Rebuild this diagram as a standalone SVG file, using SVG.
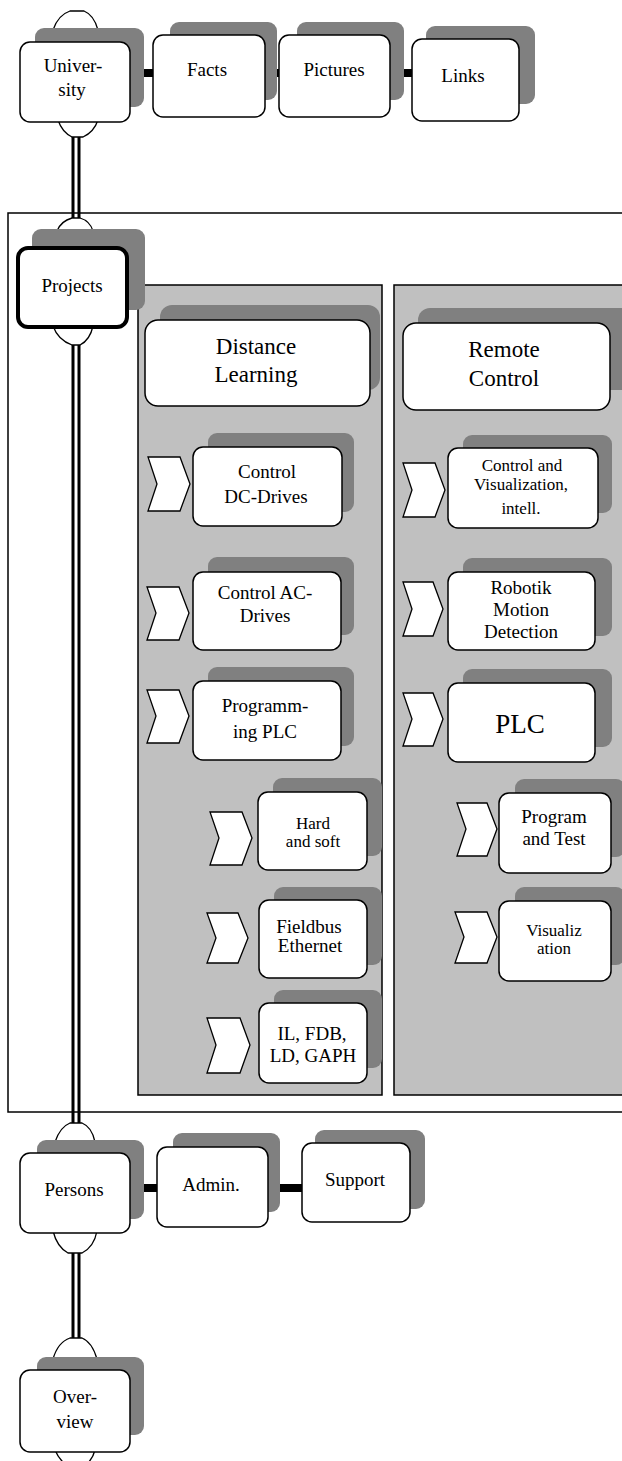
<svg xmlns="http://www.w3.org/2000/svg" width="622" height="1461" viewBox="0 0 622 1461" font-family="Liberation Serif, DejaVu Serif, Times New Roman, serif">
<style>
.bx{fill:#fff;stroke:#000;stroke-width:1.5}
.bxk{fill:#fff;stroke:#000;stroke-width:4}
.sh{fill:#808080}
.ch{fill:#fff;stroke:#000;stroke-width:1.3}
.pn{fill:#c0c0c0;stroke:#000;stroke-width:1.5}
.dl{stroke:#000;stroke-width:3;fill:none}
.bar{fill:#000}
text{font-size:19px;text-anchor:middle;fill:#000}
.h{font-size:23px}
.big{font-size:27px}
.s{font-size:17px}
</style>
<rect x="0" y="0" width="622" height="1461" fill="#fff"/>
<rect id="frame" x="8" y="213" width="630" height="899" fill="#fff" stroke="#000" stroke-width="1.5"/>
<rect id="panel-dl" class="pn" x="138" y="285" width="244" height="810"/>
<rect id="panel-rc" class="pn" x="394" y="285" width="240" height="810"/>

<g id="connectors">
<rect class="bar" x="128" y="69" width="27" height="8"/>
<rect class="bar" x="263" y="69" width="18" height="8"/>
<rect class="bar" x="388" y="69" width="26" height="8"/>
<rect class="bar" x="128" y="1184" width="31" height="8"/>
<rect class="bar" x="266" y="1184" width="38" height="8"/>
<path class="dl" d="M73,136V219M79,136V219"/>
<path class="dl" d="M73,344V1124M79,344V1124"/>
<path class="dl" d="M73,1252V1339M79,1252V1339"/>
</g>

<g id="university">
<path class="ch" d="M53,30 Q58,15 70,11 L84,11 Q94,15 98,30 Z"/>
<path class="ch" d="M58,120 Q62,132 72,137 L83,137 Q94,132 98,120 Z"/>
<rect class="sh" x="35" y="28" width="109" height="79" rx="9"/>
<rect class="bx" x="20" y="42" width="110" height="80" rx="10"/>
<text x="73" y="72" font-family="Liberation Serif, serif">Univer-</text>
<text x="72" y="96">sity</text>
</g>
<g id="facts">
<rect class="sh" x="170" y="22" width="107" height="78" rx="9"/>
<rect class="bx" x="153" y="35" width="112" height="82" rx="10"/>
<text x="207" y="76">Facts</text>
</g>
<g id="pictures">
<rect class="sh" x="297" y="22" width="107" height="78" rx="9"/>
<rect class="bx" x="279" y="35" width="111" height="82" rx="10"/>
<text x="334" y="76">Pictures</text>
</g>
<g id="links">
<rect class="sh" x="426" y="26" width="109" height="78" rx="9"/>
<rect class="bx" x="412" y="39" width="107" height="82" rx="10"/>
<text x="463" y="82">Links</text>
</g>

<g id="projects">
<path class="ch" d="M57,231 Q61,221 72,218 L80,218 Q90,221 93,231 Z"/>
<path class="ch" d="M53,326 Q58,340 72,345 L80,345 Q90,340 93,326 Z"/>
<rect class="sh" x="32" y="229" width="113" height="81" rx="9"/>
<rect class="bxk" x="18" y="248" width="109" height="79" rx="10"/>
<text x="72" y="292">Projects</text>
</g>

<g id="distance-learning">
<rect class="sh" x="160" y="305" width="220" height="85" rx="12"/>
<rect class="bx" x="145" y="320" width="225" height="86" rx="13"/>
<text class="h" x="256" y="354">Distance</text>
<text class="h" x="256" y="382">Learning</text>
</g>
<g id="remote-control">
<rect class="sh" x="418" y="308" width="215" height="82" rx="12"/>
<rect class="bx" x="403" y="323" width="207" height="87" rx="13"/>
<text class="h" x="504" y="357">Remote</text>
<text class="h" x="504" y="386">Control</text>
</g>

<g id="dc-drives">
<path class="ch" d="M148,457 L180,457 L190,484 L180,511 L148,511 L157,484 Z"/>
<rect class="sh" x="208" y="433" width="146" height="79" rx="9"/>
<rect class="bx" x="193" y="447" width="149" height="79" rx="10"/>
<text x="267" y="478">Control</text>
<text x="266" y="503">DC-Drives</text>
</g>
<g id="ac-drives">
<path class="ch" d="M147,587 L179,587 L189,613 L179,640 L147,640 L156,613 Z"/>
<rect class="sh" x="208" y="557" width="146" height="78" rx="9"/>
<rect class="bx" x="193" y="572" width="148" height="78" rx="10"/>
<text x="265" y="599">Control AC-</text>
<text x="265" y="622">Drives</text>
</g>
<g id="programming-plc">
<path class="ch" d="M147,690 L179,690 L189,716 L179,743 L147,743 L156,716 Z"/>
<rect class="sh" x="208" y="667" width="146" height="79" rx="9"/>
<rect class="bx" x="193" y="681" width="148" height="79" rx="10"/>
<text x="265" y="712">Programm-</text>
<text x="265" y="738">ing PLC</text>
</g>
<g id="hard-soft">
<path class="ch" d="M210,812 L242,812 L252,838 L242,865 L210,865 L219,838 Z"/>
<rect class="sh" x="273" y="778" width="109" height="78" rx="9"/>
<rect class="bx" x="258" y="792" width="109" height="78" rx="10"/>
<text class="s" x="313" y="829">Hard</text>
<text class="s" x="313" y="847">and soft</text>
</g>
<g id="fieldbus">
<path class="ch" d="M207,913 L238,913 L248,938 L238,963 L207,963 L216,938 Z"/>
<rect class="sh" x="274" y="887" width="108" height="78" rx="9"/>
<rect class="bx" x="259" y="900" width="108" height="78" rx="10"/>
<text x="309" y="933">Fieldbus</text>
<text x="310" y="952">Ethernet</text>
</g>
<g id="il-fdb">
<path class="ch" d="M207,1018 L240,1018 L250,1045 L240,1073 L207,1073 L216,1045 Z"/>
<rect class="sh" x="274" y="990" width="108" height="78" rx="9"/>
<rect class="bx" x="259" y="1003" width="108" height="80" rx="10"/>
<text x="312" y="1040">IL, FDB,</text>
<text x="313" y="1062">LD, GAPH</text>
</g>

<g id="control-visualization">
<path class="ch" d="M403,463 L435,463 L445,490 L435,517 L403,517 L412,490 Z"/>
<rect class="sh" x="463" y="435" width="149" height="78" rx="9"/>
<rect class="bx" x="448" y="448" width="150" height="80" rx="10"/>
<text class="s" x="522" y="471">Control and</text>
<text class="s" x="521" y="490">Visualization,</text>
<text class="s" x="521" y="514">intell.</text>
</g>
<g id="robotik">
<path class="ch" d="M403,582 L433,582 L443,609 L433,636 L403,636 L412,609 Z"/>
<rect class="sh" x="463" y="558" width="149" height="78" rx="9"/>
<rect class="bx" x="448" y="572" width="147" height="78" rx="10"/>
<text x="521" y="594">Robotik</text>
<text x="521" y="616">Motion</text>
<text x="521" y="638">Detection</text>
</g>
<g id="plc">
<path class="ch" d="M403,693 L433,693 L443,719 L433,746 L403,746 L412,719 Z"/>
<rect class="sh" x="463" y="669" width="149" height="78" rx="9"/>
<rect class="bx" x="448" y="683" width="147" height="79" rx="10"/>
<text class="big" x="520" y="733">PLC</text>
</g>
<g id="program-test">
<path class="ch" d="M457,803 L487,803 L497,829 L487,856 L457,856 L466,829 Z"/>
<rect class="sh" x="515" y="779" width="110" height="78" rx="9"/>
<rect class="bx" x="499" y="793" width="112" height="80" rx="10"/>
<text x="554" y="823">Program</text>
<text x="554" y="845">and Test</text>
</g>
<g id="visualization">
<path class="ch" d="M455,912 L487,912 L497,937 L487,963 L455,963 L464,937 Z"/>
<rect class="sh" x="515" y="887" width="110" height="78" rx="9"/>
<rect class="bx" x="499" y="901" width="112" height="80" rx="10"/>
<text class="s" x="554" y="936">Visualiz</text>
<text class="s" x="554" y="954">ation</text>
</g>

<g id="persons">
<path class="ch" d="M55,1142 Q60,1127 70,1123 L82,1123 Q92,1127 95,1142 Z"/>
<path class="ch" d="M53,1231 Q57,1247 68,1253 L82,1253 Q94,1247 97,1231 Z"/>
<rect class="sh" x="37" y="1140" width="107" height="79" rx="9"/>
<rect class="bx" x="20" y="1153" width="110" height="80" rx="10"/>
<text x="74" y="1196">Persons</text>
</g>
<g id="admin">
<rect class="sh" x="173" y="1133" width="107" height="79" rx="9"/>
<rect class="bx" x="157" y="1147" width="111" height="80" rx="10"/>
<text x="211" y="1191">Admin.</text>
</g>
<g id="support">
<rect class="sh" x="315" y="1130" width="110" height="79" rx="9"/>
<rect class="bx" x="302" y="1143" width="108" height="79" rx="10"/>
<text x="355" y="1186">Support</text>
</g>
<g id="overview">
<path class="ch" d="M53,1359 Q58,1342 70,1338 L82,1338 Q92,1342 97,1359 Z"/>
<path class="ch" d="M55,1450 Q60,1462 70,1467 L82,1467 Q92,1462 95,1450 Z"/>
<rect class="sh" x="37" y="1357" width="107" height="78" rx="9"/>
<rect class="bx" x="20" y="1370" width="110" height="82" rx="10"/>
<text x="75" y="1403">Over-</text>
<text x="75" y="1428">view</text>
</g>
</svg>
